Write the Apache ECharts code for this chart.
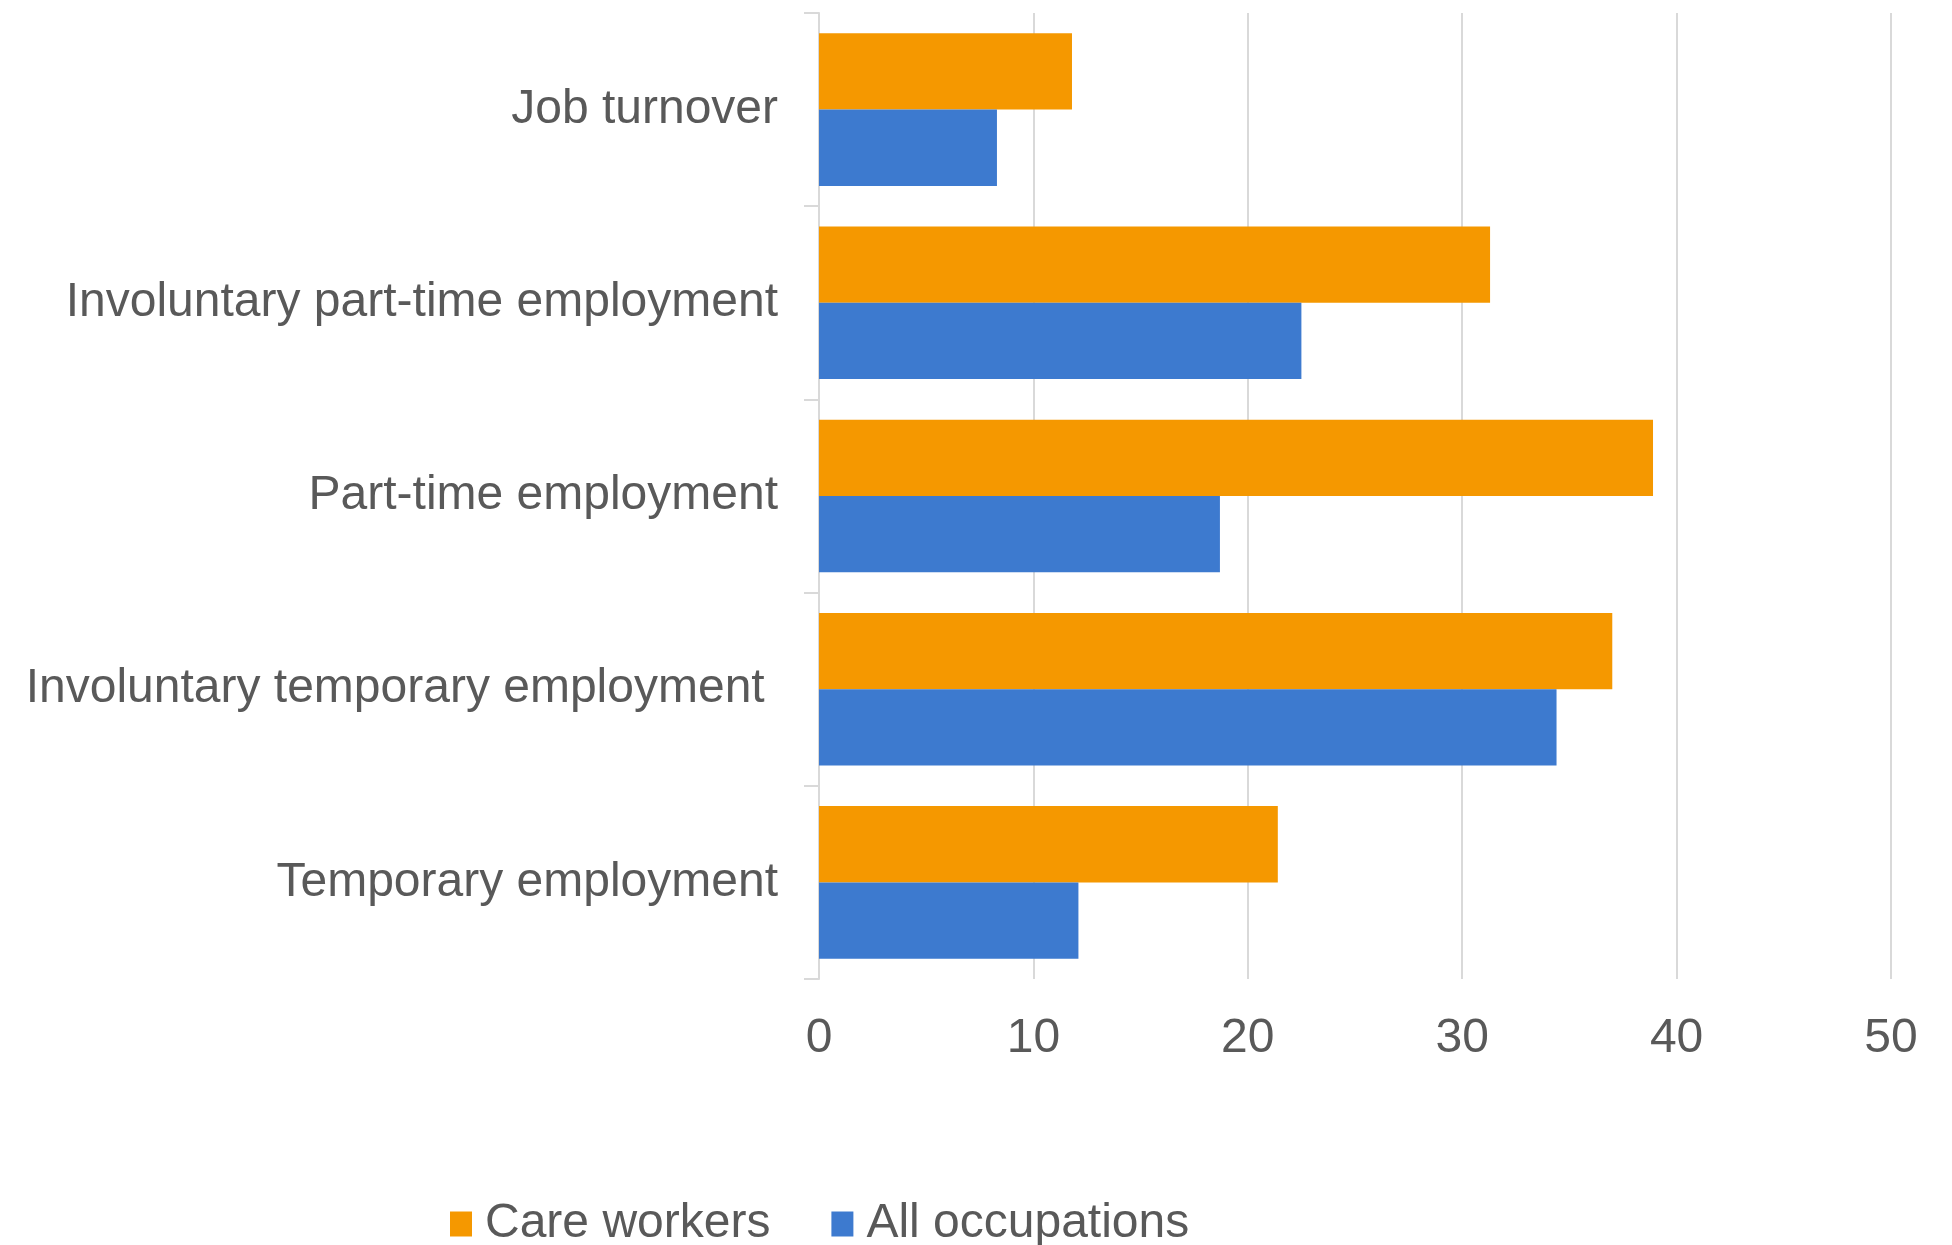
<!DOCTYPE html>
<html>
<head>
<meta charset="utf-8">
<script src="https://cdn.jsdelivr.net/npm/echarts@6/dist/echarts.min.js"></script>
<style>
  html, body { margin: 0; padding: 0; background: #ffffff; }
  #chart { width: 1952px; height: 1245px; }
</style>
</head>
<body>
<div id="chart"></div>
<script>
// Precarious employment indicators, % — care workers vs all occupations
const categories = [
  'Job turnover',
  'Involuntary part-time employment',
  'Part-time employment',
  'Involuntary temporary employment ',
  'Temporary employment'
];
const careWorkers    = [11.8, 31.3, 38.9, 37.0, 21.4];
const allOccupations = [8.3, 22.5, 18.7, 34.4, 12.1];
const xTicks = { min: 0, max: 50, interval: 10 };

const FONT = '"Liberation Sans", Arial, sans-serif';
const TEXT = '#595959';
const GRID = '#d9d9d9';

const chart = echarts.init(document.getElementById('chart'), null, { renderer: 'canvas' });
chart.setOption({
  animation: false,
  backgroundColor: '#ffffff',
  textStyle: { fontFamily: FONT },
  grid: { left: 819, right: 61, top: 13, bottom: 266, containLabel: false },
  legend: {
    left: 445,
    top: 1195,
    itemWidth: 22,
    itemHeight: 25,
    itemGap: 61,
    icon: 'rect',
    textStyle: { color: TEXT, fontSize: 48, fontFamily: FONT, padding: [0, 0, 0, 8] },
    data: ['Care workers', 'All occupations']
  },
  xAxis: {
    type: 'value',
    min: xTicks.min,
    max: xTicks.max,
    interval: xTicks.interval,
    axisLine: { show: false },
    axisTick: { show: false },
    axisLabel: { color: TEXT, fontSize: 48, fontFamily: FONT, margin: 36 },
    splitLine: { show: true, lineStyle: { color: GRID, width: 2 } }
  },
  yAxis: {
    type: 'category',
    inverse: true,
    data: categories,
    axisLine: { show: true, lineStyle: { color: GRID, width: 2 } },
    axisTick: { show: true, length: 15, lineStyle: { color: GRID, width: 2 } },
    axisLabel: { color: TEXT, fontSize: 48, fontFamily: FONT, margin: 41 },
    splitLine: { show: false }
  },
  series: [
    {
      name: 'Care workers',
      type: 'bar',
      data: careWorkers,
      itemStyle: { color: '#F59800' },
      barGap: '0%',
      barCategoryGap: '21%'
    },
    {
      name: 'All occupations',
      type: 'bar',
      data: allOccupations,
      itemStyle: { color: '#3D7ACF' },
      barGap: '0%',
      barCategoryGap: '21%'
    }
  ]
});
</script>
</body>
</html>
